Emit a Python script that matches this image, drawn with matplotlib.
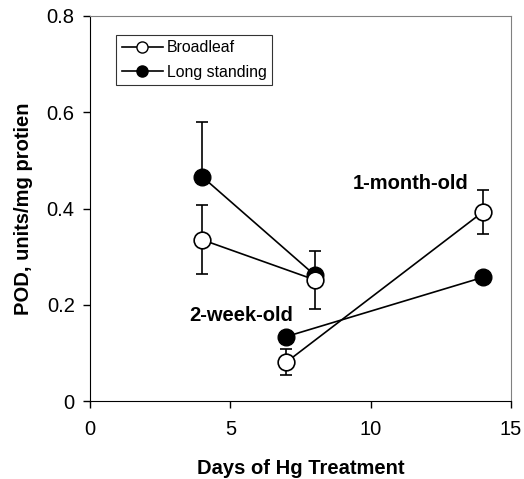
import matplotlib
matplotlib.use("Agg")
import matplotlib.pyplot as plt

plt.rcParams["font.family"] = ["Liberation Sans", "DejaVu Sans"]

# 2-week-old and 1-month-old groups, each connected separately
days_a = [4, 8]
days_b = [7, 14]

broadleaf_a = [0.335, 0.252]
broadleaf_a_err = [0.072, 0.060]
broadleaf_b = [0.081, 0.393]
broadleaf_b_err = [0.027, 0.045]

long_a = [0.466, 0.262]
long_a_err = [0.114, 0.0]
long_b = [0.134, 0.257]
long_b_err = [0.0, 0.0]

fig = plt.figure(figsize=(5.24, 4.79), dpi=100)
ax = fig.add_axes([0.1718, 0.1628, 0.8034, 0.8038])

lw = 1.2
ms = 12
fs = 14.5

for x, y, err in ((days_a, long_a, long_a_err), (days_b, long_b, long_b_err)):
    ax.errorbar(x, y, yerr=[[0] * len(err), err], fmt="none", ecolor="black",
                elinewidth=lw, capsize=4.3, capthick=lw, zorder=2)
    ax.plot(x, y, color="black", linewidth=lw, marker="o", markersize=ms,
            markerfacecolor="black", markeredgecolor="black", zorder=3)

for x, y, err in ((days_a, broadleaf_a, broadleaf_a_err), (days_b, broadleaf_b, broadleaf_b_err)):
    ax.errorbar(x, y, yerr=err, fmt="none", ecolor="black",
                elinewidth=lw, capsize=4.3, capthick=lw, zorder=2)
    ax.plot(x, y, color="black", linewidth=lw, marker="o", markersize=ms,
            markerfacecolor="white", markeredgecolor="black", markeredgewidth=1.2, zorder=4)

h1, = ax.plot([], [], color="black", linewidth=lw, marker="o", markersize=8,
              markerfacecolor="white", markeredgecolor="black", label="Broadleaf")
h2, = ax.plot([], [], color="black", linewidth=lw, marker="o", markersize=8,
              markerfacecolor="black", markeredgecolor="black", label="Long standing")
leg = ax.legend(handles=[h1, h2], loc="upper left", bbox_to_anchor=(0.062, 0.951),
                fontsize=11.4, frameon=True, fancybox=False, handlelength=2.6,
                borderpad=0.35, labelspacing=0.58, handletextpad=0.25, borderaxespad=0)
leg.get_frame().set_edgecolor("black")
leg.get_frame().set_linewidth(0.8)

ax.text(7.23, 0.177, "2-week-old", fontsize=fs, fontweight="bold", ha="right", va="center")
ax.text(13.47, 0.453, "1-month-old", fontsize=fs, fontweight="bold", ha="right", va="center")

ax.set_xlim(0, 15)
ax.set_ylim(0, 0.8)
ax.set_xticks([0, 5, 10, 15])
ax.set_yticks([0, 0.2, 0.4, 0.6, 0.8])
ax.set_yticklabels(["0", "0.2", "0.4", "0.6", "0.8"])
ax.tick_params(axis="both", direction="out", length=5, width=1, labelsize=fs)
ax.tick_params(axis="x", pad=9)
ax.tick_params(axis="y", pad=6)
ax.set_xlabel("Days of Hg Treatment", fontsize=fs, fontweight="bold", labelpad=14)
ax.set_ylabel("POD, units/mg protien", fontsize=fs, fontweight="bold", labelpad=10)

for side in ("top", "right"):
    ax.spines[side].set_color("#808080")
for side in ("left", "bottom"):
    ax.spines[side].set_color("black")

fig.savefig("out.png", dpi=100)
